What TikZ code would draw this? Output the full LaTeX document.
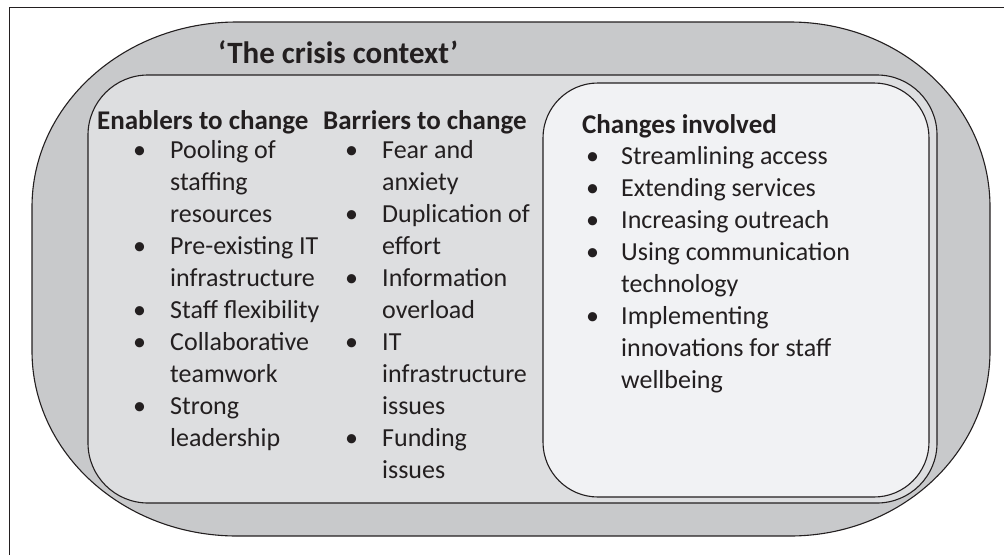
\documentclass[tikz,border=0pt]{standalone}
\usepackage{fontspec}
\setmainfont{Carlito}
\usetikzlibrary{positioning}
\definecolor{pillgray}{RGB}{200,201,203}
\definecolor{boxgray}{RGB}{221,222,224}
\definecolor{boxwhite}{RGB}{241,242,244}
\definecolor{edgegray}{RGB}{35,31,32}

\begin{document}
\begin{tikzpicture}[x=1pt, y=-1pt,
  outline/.style={draw=edgegray, line width=1.1pt},
  heading/.style={inner sep=0pt, anchor=base west, text=edgegray, font=\fontsize{27}{32}\selectfont\bfseries},
  itemlist/.style={inner sep=0pt, anchor=base west, text=edgegray, font=\fontsize{26}{32}\selectfont}]
\useasboundingbox (0,0) rectangle (1004,555);

% frame
\draw[edgegray, line width=0.8pt] (9,555) -- (9,7) -- (1004,7);

% crisis context
\draw[outline, fill=pillgray] (237,22) -- (790,22) .. controls (900.5,22) and (990,104.8) .. (990,207)
  -- (990,351) .. controls (990,453.2) and (900.5,536) .. (790,536)
  -- (237,536) .. controls (123.8,536) and (32,453.2) .. (32,351)
  -- (32,207) .. controls (32,104.8) and (123.8,22) .. (237,22) -- cycle;
\draw[outline, fill=boxgray, rounded corners=60pt] (88,75) rectangle (937,503);
\draw[outline, fill=boxwhite, rounded corners=55pt] (543,83) rectangle (929,497);

\node[inner sep=0pt, anchor=base west, text=edgegray, font=\fontsize{31}{36}\selectfont\bfseries] (title) at (218,63) {`The crisis context'};

\node[heading] (enhead) at (97,129) {Enablers to change};
\node[heading] (barhead) at (323,129) {Barriers to change};
\node[heading] (chhead) at (582,133) {Changes involved};

\node[itemlist] (enlist) at (133,158) {\begin{tabular}[t]{@{}p{37pt}@{}l@{}}
\textbullet & Pooling of\\
 & staffing\\
 & resources\\
\textbullet & Pre-existing IT\\
 & infrastructure\\
\textbullet & Staff flexibility\\
\textbullet & Collaborative\\
 & teamwork\\
\textbullet & Strong\\
 & leadership
\end{tabular}};

\node[itemlist] (barlist) at (345,158) {\begin{tabular}[t]{@{}p{37pt}@{}l@{}}
\textbullet & Fear and\\
 & anxiety\\
\textbullet & Duplication of\\
 & effort\\
\textbullet & Information\\
 & overload\\
\textbullet & IT\\
 & infrastructure\\
 & issues\\
\textbullet & Funding\\
 & issues
\end{tabular}};

\node[itemlist] (chlist) at (586,164) {\begin{tabular}[t]{@{}p{35pt}@{}l@{}}
\textbullet & Streamlining access\\
\textbullet & Extending services\\
\textbullet & Increasing outreach\\
\textbullet & Using communication\\
 & technology\\
\textbullet & Implementing\\
 & innovations for staff\\
 & wellbeing
\end{tabular}};
\end{tikzpicture}
\end{document}
